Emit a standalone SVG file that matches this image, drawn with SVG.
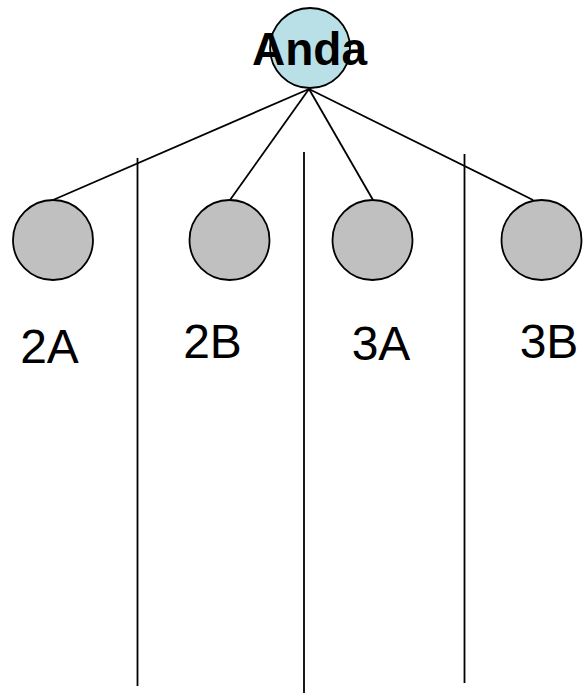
<svg xmlns="http://www.w3.org/2000/svg" width="583" height="693" viewBox="0 0 583 693">
<style>
.c{stroke:#000;stroke-width:1.8}
.g{fill:#c0c0c0}
.lbl{font-family:"Liberation Sans",Arial,sans-serif;font-size:48px;fill:#000}
.ln{stroke:#000;stroke-width:1.8;fill:none}
</style>
<rect width="583" height="693" fill="#fff"/>
<g id="dividers">
<line class="ln" x1="137.5" y1="158" x2="137.5" y2="686"/>
<line class="ln" x1="304" y1="152" x2="304" y2="693"/>
<line class="ln" x1="464.5" y1="154" x2="464.5" y2="683"/>
</g>
<g id="connectors">
<line class="ln" x1="309" y1="89" x2="53" y2="200"/>
<line class="ln" x1="309" y1="89" x2="230" y2="200"/>
<line class="ln" x1="309" y1="89" x2="373" y2="200"/>
<line class="ln" x1="309" y1="89" x2="533" y2="200"/>
</g>
<g id="anda">
<circle class="c" cx="310" cy="48" r="40" fill="#b9e0e6"/>
<text x="309.5" y="65" text-anchor="middle" class="lbl" style="font-weight:bold;font-size:46px">Anda</text>
</g>
<g id="n2A">
<circle class="c g" cx="53" cy="240" r="40"/>
<text x="49.5" y="363" text-anchor="middle" class="lbl">2A</text>
</g>
<g id="n2B">
<circle class="c g" cx="229.5" cy="240" r="40"/>
<text x="212.5" y="358" text-anchor="middle" class="lbl">2B</text>
</g>
<g id="n3A">
<circle class="c g" cx="372.5" cy="240" r="40"/>
<text x="381" y="360" text-anchor="middle" class="lbl">3A</text>
</g>
<g id="n3B">
<circle class="c g" cx="541.5" cy="240" r="40"/>
<text x="549" y="358" text-anchor="middle" class="lbl">3B</text>
</g>
</svg>
